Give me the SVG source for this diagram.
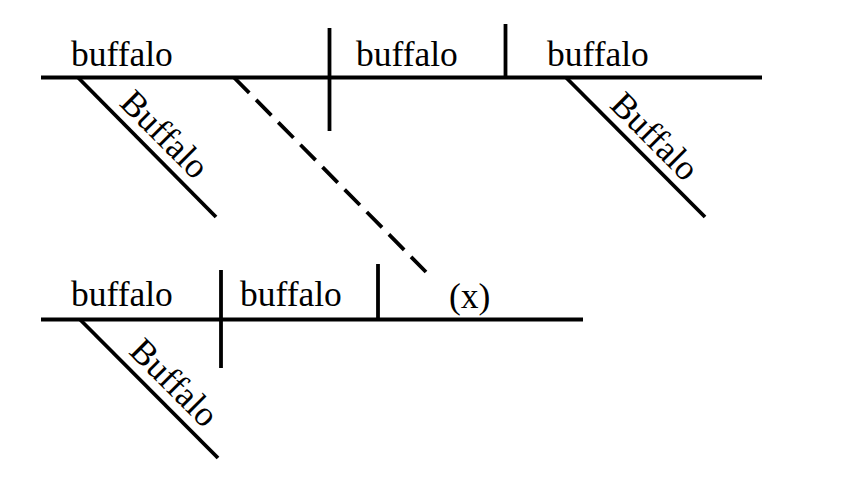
<svg xmlns="http://www.w3.org/2000/svg" width="847" height="499" viewBox="0 0 847 499">
<style>
.ln{stroke:#000;stroke-width:3.8;fill:none}
.dash{stroke-dasharray:21.7 9.8}
.w{font-family:"Liberation Serif","Times New Roman",serif;font-size:35.5px;fill:#000}
</style>
<rect width="847" height="499" fill="#fff"/>
<g id="connectors">
<line class="ln" x1="41" y1="77.5" x2="762" y2="77.5"/>
<line class="ln" x1="329.5" y1="28" x2="329.5" y2="131"/>
<line class="ln" x1="505.5" y1="24" x2="505.5" y2="77.5"/>
<line class="ln" x1="78" y1="77.5" x2="216" y2="217"/>
<line class="ln" x1="566" y1="77.5" x2="705" y2="217"/>
<line class="ln dash" x1="234" y1="77.5" x2="426" y2="272"/>
<line class="ln" x1="41" y1="319.5" x2="583" y2="319.5"/>
<line class="ln" x1="221" y1="270" x2="221" y2="368"/>
<line class="ln" x1="378" y1="264" x2="378" y2="319.5"/>
<line class="ln" x1="80" y1="319.5" x2="218" y2="458"/>
</g>
<g id="subject"><text class="w" x="71" y="65.5">buffalo</text></g>
<g id="subject-mod"><text class="w" transform="translate(118.3 104.5) rotate(45)">Buffalo</text></g>
<g id="verb"><text class="w" x="356" y="65.5">buffalo</text></g>
<g id="object"><text class="w" x="547" y="65.5">buffalo</text></g>
<g id="object-mod"><text class="w" transform="translate(608.4 106.6) rotate(45)">Buffalo</text></g>
<g id="clause-subject"><text class="w" x="71" y="305.5">buffalo</text></g>
<g id="clause-subject-mod"><text class="w" transform="translate(127.8 352.8) rotate(45)">Buffalo</text></g>
<g id="clause-verb"><text class="w" x="240" y="305.5">buffalo</text></g>
<g id="clause-object"><text class="w" x="449" y="308">(x)</text></g>
</svg>
